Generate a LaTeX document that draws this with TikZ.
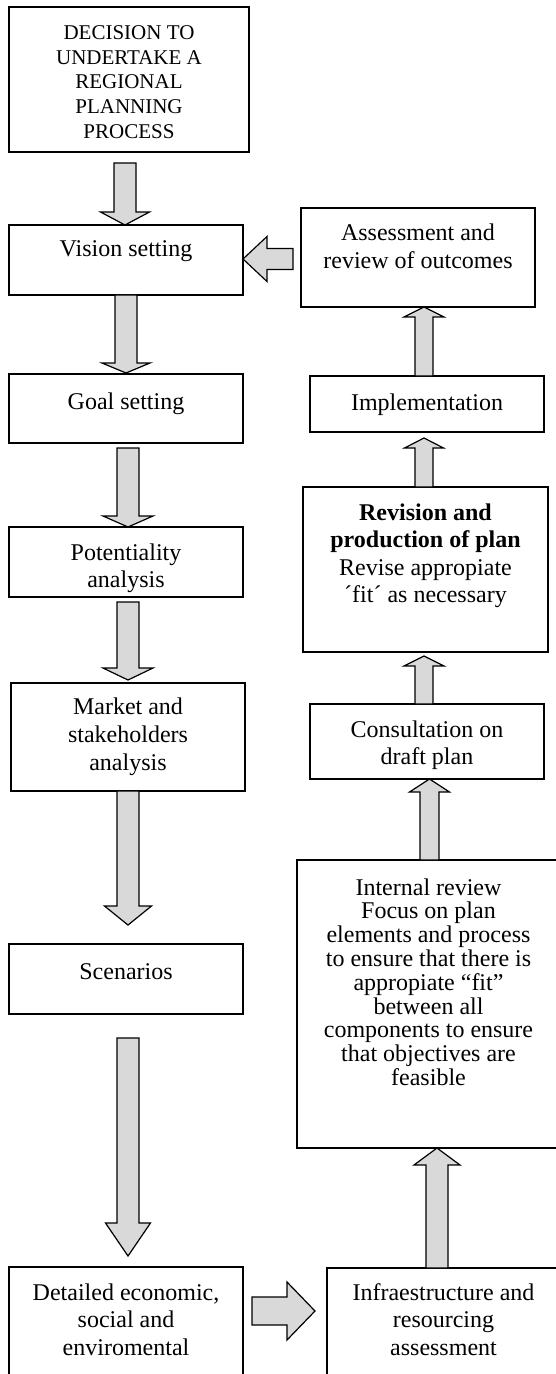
\documentclass[tikz,border=0pt]{standalone}
\usepackage{fontspec}
\setmainfont{Liberation Serif}
\usetikzlibrary{calc}
\definecolor{arrfill}{HTML}{D9D9D9}
\tikzset{
  box/.style={draw, line width=0.6pt, inner sep=0pt, outer sep=0pt, anchor=north west},
  txt/.style={align=center, inner sep=0pt, font=\fontsize{12pt}{13.8pt}\selectfont, execute at begin node=\strut},
  barr/.style={draw, fill=arrfill, line width=0.6pt, line join=miter},
}
% box: [label style] name x1 y1 x2 y2 (px) textshift(px) text
\newcommand\bx[8][]{%
  \node[box, minimum width={(#5-#3)*0.5pt}, minimum height={(#6-#4)*0.5pt},
        label={[txt,#1,anchor=north,yshift={-#7*0.5pt}]north:{#8}}] (#2) at (#3,#4) {};}
% vertical block arrow: x(px) from to startgap tipgap headlen shafthalf headhalf (px)
\newcommand\varr[8]{%
  \draw[barr] let \p1=(#2), \p2=(#3), \n1={ifthenelse(\y2>\y1,1,-1)},
    \n2={\y1+(\n1)*(#4)*0.5pt}, \n3={\y2-(\n1)*(#5)*0.5pt}, \n4={\n3-(\n1)*(#6)*0.5},
    \n5={#1*0.5} in
   ({(\n5-#7*0.5)*1pt},{\n2*1pt}) -- ({(\n5+#7*0.5)*1pt},{\n2*1pt})
   -- ({(\n5+#7*0.5)*1pt},{\n4*1pt}) -- ({(\n5+#8*0.5)*1pt},{\n4*1pt})
   -- ({\n5*1pt},{\n3*1pt}) -- ({(\n5-#8*0.5)*1pt},{\n4*1pt})
   -- ({(\n5-#7*0.5)*1pt},{\n4*1pt}) -- cycle;}
% horizontal block arrow: y(px) from to startgap tipgap headlen shafthalf headhalf (px)
\newcommand\harr[8]{%
  \draw[barr] let \p1=(#2), \p2=(#3), \n1={ifthenelse(\x2>\x1,1,-1)},
    \n2={\x1+(\n1)*(#4)*0.5pt}, \n3={\x2-(\n1)*(#5)*0.5pt}, \n4={\n3-(\n1)*(#6)*0.5},
    \n5={-#1*0.5} in
   ({\n2*1pt},{(\n5-#7*0.5)*1pt}) -- ({\n4*1pt},{(\n5-#7*0.5)*1pt})
   -- ({\n4*1pt},{(\n5-#8*0.5)*1pt}) -- ({\n3*1pt},{\n5*1pt})
   -- ({\n4*1pt},{(\n5+#8*0.5)*1pt}) -- ({\n4*1pt},{(\n5+#7*0.5)*1pt})
   -- ({\n2*1pt},{(\n5+#7*0.5)*1pt}) -- cycle;}
\begin{document}
\begin{tikzpicture}[x=0.5pt, y=-0.5pt]
\useasboundingbox (0,0) rectangle (556,1374);
\clip (0,0) rectangle (556,1374);
% left column
\bx[font=\fontsize{10.5pt}{12.4pt}\selectfont]{dec}{9}{7}{249}{152}{18}{DECISION TO\\UNDERTAKE A\\REGIONAL\\PLANNING\\PROCESS}
\bx{vis}{9}{225}{243}{295}{12}{Vision setting}
\bx{goal}{9}{374}{243}{443}{16}{Goal setting}
\bx{pot}{9}{527}{243}{597}{16}{Potentiality\\analysis}
\bx[font=\fontsize{12pt}{14pt}\selectfont]{mkt}{11}{683}{245}{791}{14}{Market and\\stakeholders\\analysis}
\bx{scn}{9}{944}{243}{1014}{16}{Scenarios}
\bx{det}{9}{1267}{243}{1390}{16}{Detailed economic,\\social and\\enviromental}
% right column
\bx[font=\fontsize{12pt}{14pt}\selectfont]{ass}{301}{208}{535}{307}{15}{Assessment and\\review of outcomes}
\bx{imp}{310}{376}{544}{432}{15}{Implementation}
\bx{rev}{303}{487}{548}{652}{16}{\textbf{Revision and}\\\textbf{production of plan}\\Revise appropiate\\´fit´ as necessary}
\bx{con}{310}{704}{544}{779}{16}{Consultation on\\draft plan}
\bx[font=\fontsize{12pt}{11.9pt}\selectfont]{int}{297}{860}{560}{1148}{18}{Internal review\\Focus on plan\\elements and process\\to ensure that there is\\appropiate “fit”\\between all\\components to ensure\\that objectives are\\feasible}
\bx{inf}{327}{1268}{560}{1390}{15}{Infraestructure and\\resourcing\\assessment}
% arrows, left column (down)
\varr{125}{dec.south}{vis.north}{11}{0}{13}{11}{24.5}
\varr{126}{vis.south}{goal.north}{0}{1}{10}{11}{24}
\varr{128}{goal.south}{pot.north}{5}{0}{11}{11}{25}
\varr{128}{pot.south}{mkt.north}{5}{3}{12}{11}{25}
\varr{128}{mkt.south}{scn.north}{0}{19}{19}{11}{23.5}
\varr{128}{scn.south}{det.north}{24}{11}{33}{11}{22.5}
% arrows, right column (up)
\varr{437}{inf.north}{int.south}{0}{0}{17}{11}{23}
\varr{429.5}{int.north}{con.south}{0}{0}{13}{9.5}{20}
\varr{424}{con.north}{rev.south}{0}{4}{10}{9}{20}
\varr{424}{rev.north}{imp.south}{0}{6}{10}{9}{19.5}
\varr{424}{imp.north}{ass.south}{0}{0}{10}{9}{20}
% horizontal arrows
\harr{259}{ass.west}{vis.east}{8}{0}{24}{10.5}{22.5}
\harr{1311}{det.east}{inf.west}{9}{12}{28}{14}{29}
\end{tikzpicture}
\end{document}
